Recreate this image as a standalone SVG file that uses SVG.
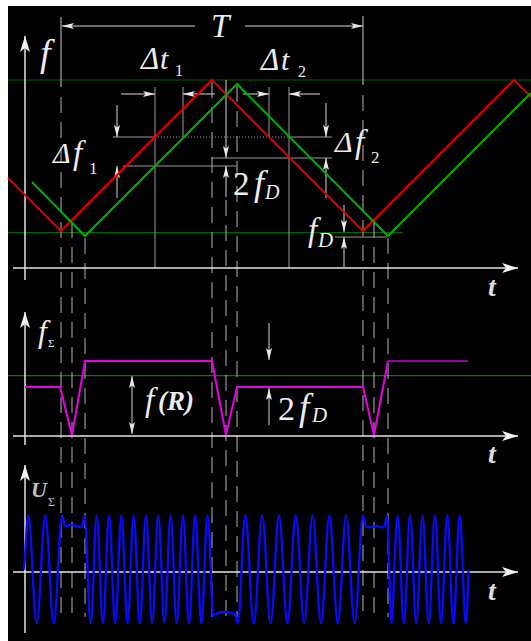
<svg xmlns="http://www.w3.org/2000/svg" width="531" height="641" viewBox="0 0 531 641">
<defs>
<marker id="ar" viewBox="0 0 12 6" refX="12" refY="3" markerWidth="12" markerHeight="6" markerUnits="userSpaceOnUse" orient="auto"><path d="M0,0 L12,3 L0,6 L2.5,3 z" fill="#e8e8e8"/></marker>
<marker id="ax" viewBox="0 0 16 10" refX="16" refY="5" markerWidth="16" markerHeight="10" markerUnits="userSpaceOnUse" orient="auto"><path d="M0,0 L16,5 L0,10 L4,5 z" fill="#f2f2f2"/></marker>
</defs>
<style>
.ax{stroke:#e6e6e6;stroke-width:1.5;fill:none}
.dim{stroke:#d8d8d8;stroke-width:1;fill:none}
.ref{stroke:#9a9a9a;stroke-width:1;fill:none}
.dot{stroke:#9a9a9a;stroke-width:1;stroke-dasharray:1 2;fill:none}
.dash{stroke:#b4b4b4;stroke-width:1;stroke-dasharray:16 9;fill:none}
.gl{stroke:#006400;stroke-width:1.2;fill:none}
.lbl{font-family:"Liberation Serif","Times New Roman",serif;font-style:italic;fill:#ececec}
.tl{font-family:"Liberation Serif","Times New Roman",serif;font-style:italic;font-weight:bold;fill:#dcdcdc;font-size:28px}
</style>
<rect x="0" y="0" width="531" height="641" fill="#ffffff"/>
<rect x="8" y="6" width="523" height="635" fill="#000000"/>

<g id="connectors">
  <line class="gl" x1="8" y1="80" x2="531" y2="80"/>
  <line class="gl" x1="8" y1="232.7" x2="403" y2="232.7"/>
  <line class="gl" x1="8" y1="375.7" x2="531" y2="375.7" style="stroke:#008000"/>

  <line class="ref" x1="61" y1="17" x2="61" y2="87" style="stroke:#c8c8c8"/>
  <line class="ref" x1="363" y1="16" x2="363" y2="85" style="stroke:#c8c8c8"/>

  <line class="dash" x1="61" y1="97" x2="61" y2="617"/>
  <line class="dash" x1="72" y1="222" x2="72" y2="617"/>
  <line class="dash" x1="85" y1="238" x2="85" y2="617"/>
  <line class="dash" x1="212" y1="82" x2="212" y2="617"/>
  <line class="dash" x1="226" y1="200" x2="226" y2="617"/>
  <line class="dash" x1="237" y1="86" x2="237" y2="617"/>
  <line class="dash" x1="363" y1="95" x2="363" y2="617"/>
  <line class="dash" x1="374" y1="222" x2="374" y2="617"/>
  <line class="dash" x1="388" y1="238" x2="388" y2="617"/>

  <line class="ref" x1="155" y1="87" x2="155" y2="268"/>
  <line class="ref" x1="183" y1="87" x2="183" y2="137"/>
  <line class="ref" x1="269" y1="87" x2="269" y2="137"/>
  <line class="ref" x1="289" y1="87" x2="289" y2="268"/>

  <line class="ref" x1="113" y1="137" x2="155" y2="137"/>
  <line class="dot" x1="155" y1="137" x2="289" y2="137"/>
  <line class="ref" x1="289" y1="137" x2="332" y2="137"/>
  <line class="ref" x1="123" y1="166" x2="237" y2="166"/>
  <line class="ref" x1="211" y1="158" x2="332" y2="158"/>
  <line class="ref" x1="335" y1="237" x2="387" y2="237"/>

  <line class="dim" x1="195" y1="26" x2="62" y2="26" marker-end="url(#ar)"/>
  <line class="dim" x1="245" y1="26" x2="363" y2="26" marker-end="url(#ar)"/>
  <line class="dim" x1="121" y1="94" x2="155" y2="94" marker-end="url(#ar)"/>
  <line class="dim" x1="215" y1="94" x2="183" y2="94" marker-end="url(#ar)"/>
  <line class="dim" x1="243" y1="94" x2="269" y2="94" marker-end="url(#ar)"/>
  <line class="dim" x1="320" y1="94" x2="289" y2="94" marker-end="url(#ar)"/>
  <line class="dim" x1="117" y1="105" x2="117" y2="137" marker-end="url(#ar)"/>
  <line class="dim" x1="117" y1="198" x2="117" y2="166" marker-end="url(#ar)"/>
  <line class="dim" x1="326" y1="103" x2="326" y2="137" marker-end="url(#ar)"/>
  <line class="dim" x1="326" y1="198" x2="326" y2="158" marker-end="url(#ar)"/>
  <line class="dim" x1="226" y1="80" x2="226" y2="158" marker-end="url(#ar)"/>
  <line class="dim" x1="226" y1="197" x2="226" y2="166" marker-end="url(#ar)"/>
  <line class="dim" x1="344" y1="205" x2="344" y2="232" marker-end="url(#ar)"/>
  <line class="dim" x1="344" y1="267" x2="344" y2="237" marker-end="url(#ar)"/>
  <line class="dim" x1="132" y1="404" x2="132" y2="376" marker-end="url(#ar)"/>
  <line class="dim" x1="132" y1="404" x2="132" y2="434" marker-end="url(#ar)"/>
  <line class="dim" x1="269" y1="323" x2="269" y2="360" marker-end="url(#ar)"/>
  <line class="dim" x1="269" y1="425" x2="269" y2="388" marker-end="url(#ar)"/>
</g>

<g id="axes">
  <line class="ax" x1="25" y1="280" x2="25" y2="36" marker-end="url(#ax)"/>
  <line class="ax" x1="13" y1="268" x2="518" y2="268" marker-end="url(#ax)"/>
  <line class="ax" x1="25" y1="445" x2="25" y2="312" marker-end="url(#ax)"/>
  <line class="ax" x1="13" y1="436" x2="518" y2="436" marker-end="url(#ax)"/>
  <line class="ax" x1="25" y1="633" x2="25" y2="465" marker-end="url(#ax)"/>
  <line class="ax" x1="13" y1="572" x2="518" y2="572" marker-end="url(#ax)"/>
</g>

<g id="transmitted">
  <polyline points="8,178 61,231 212,80 363,231 514,80 531,97" fill="none" stroke="#e00000" stroke-width="2"/>
</g>
<g id="received">
  <polyline points="32,182 85,236 237,84 388,236 531,93" fill="none" stroke="#00b000" stroke-width="2"/>
</g>

<g id="beat-frequency">
  <polyline points="25,387 60,387 72,435 85,361 212,361 226,435 237,387 363,387 374,435 388,361" fill="none" stroke="#e600e6" stroke-width="2"/>
  <line x1="388" y1="361" x2="468" y2="361" stroke="#a000a0" stroke-width="2"/>
</g>

<g id="beat-signal">
  <path fill="none" stroke="#0a0aff" stroke-width="2.3" d="M24,569.5 C25.6,552 26.9,515.7 28.25,515.7 C31.34,515.7 33.66,623.3 36.75,623.3 S42.16,515.7 45.25,515.7 S50.66,623.3 53.75,623.3 S59.16,515.7 62.25,515.7 C63.2,515.7 63.8,526 65.5,526 C69,526 70,524.5 73.5,525 C77,525.5 79,528 81.5,526.5 C83,525 83.8,515.7 84.5,515.7 C86.74,515.7 88.41,623.3 90.65,623.3 S94.56,515.7 96.8,515.7 S100.71,623.3 102.95,623.3 S106.86,515.7 109.1,515.7 S113.01,623.3 115.25,623.3 S119.16,515.7 121.4,515.7 S125.31,623.3 127.55,623.3 S131.46,515.7 133.7,515.7 S137.61,623.3 139.85,623.3 S143.76,515.7 146,515.7 S149.91,623.3 152.15,623.3 S156.06,515.7 158.3,515.7 S162.21,623.3 164.45,623.3 S168.36,515.7 170.6,515.7 S174.51,623.3 176.75,623.3 S180.66,515.7 182.9,515.7 S186.81,623.3 189.05,623.3 S192.96,515.7 195.2,515.7 S199.11,623.3 201.35,623.3 S205.26,515.7 207.5,515.7 C209.7,515.7 211.5,610 213,616 C216,613 219,612 224,612 C229,612 233,613 235.5,615 C236.3,617 236.8,623.3 237.8,623.3 C240.5,623.3 242.6,515.7 245.4,515.7 C248.46,515.7 250.74,623.3 253.8,623.3 S259.14,515.7 262.2,515.7 S267.54,623.3 270.6,623.3 S275.94,515.7 279,515.7 S284.34,623.3 287.4,623.3 S292.74,515.7 295.8,515.7 S301.14,623.3 304.2,623.3 S309.54,515.7 312.6,515.7 S317.94,623.3 321,623.3 S326.34,515.7 329.4,515.7 S334.74,623.3 337.8,623.3 S343.14,515.7 346.2,515.7 S351.54,623.3 354.6,623.3 S359.94,515.7 363,515.7 C364,515.7 364.5,526 366.5,527 C370,528.5 373,526 376,526 C379,526 381,528.5 384,527 C385.5,526 386.2,515.7 387,515.7 C388.6,515.7 389.9,623.3 391.5,623.3 S395.44,515.7 397.7,515.7 S401.64,623.3 403.9,623.3 S407.84,515.7 410.1,515.7 S414.04,623.3 416.3,623.3 S420.24,515.7 422.5,515.7 S426.44,623.3 428.7,623.3 S432.64,515.7 434.9,515.7 S438.84,623.3 441.1,623.3 S445.04,515.7 447.3,515.7 S451.24,623.3 453.5,623.3 S457.44,515.7 459.7,515.7 S463.64,623.3 465.9,623.3 C467,623.3 467.8,590 468.5,569.5"/>
</g>

<g id="labels">
  <text class="lbl" x="211" y="37" font-size="33">T</text>
  <text class="lbl" x="40" y="66" font-size="38">f</text>
  <text class="lbl" font-size="31"><tspan x="141" y="69">Δ</tspan><tspan x="160" y="69" font-size="30">t</tspan><tspan x="175" y="76" font-size="16" font-style="normal">1</tspan></text>
  <text class="lbl" font-size="31"><tspan x="261" y="70">Δ</tspan><tspan x="281" y="70" font-size="30">t</tspan><tspan x="298" y="77" font-size="16" font-style="normal">2</tspan></text>
  <text class="lbl" font-size="30"><tspan x="53" y="163">Δ</tspan><tspan x="73" y="164" font-size="33">f</tspan><tspan x="89" y="174" font-size="17" font-style="normal">1</tspan></text>
  <text class="lbl" font-size="30"><tspan x="335" y="152">Δ</tspan><tspan x="355" y="153" font-size="33">f</tspan><tspan x="371" y="163" font-size="17" font-style="normal">2</tspan></text>
  <text class="lbl" font-size="33"><tspan x="233" y="195" font-style="normal">2</tspan><tspan x="254" y="195" font-size="36">f</tspan><tspan x="265" y="199" font-size="20">D</tspan></text>
  <text class="lbl" font-size="33"><tspan x="308" y="241">f</tspan><tspan x="318" y="247" font-size="21">D</tspan></text>
  <text class="tl" x="488" y="296">t</text>
  <text class="lbl" font-size="32"><tspan x="38" y="342">f</tspan><tspan x="48" y="347" font-size="11" font-style="normal">Σ</tspan></text>
  <text class="lbl" font-size="33"><tspan x="145" y="411">f</tspan><tspan x="158" y="410" font-size="27" font-weight="bold">(R)</tspan></text>
  <text class="lbl" font-size="34"><tspan x="278" y="420" font-style="normal">2</tspan><tspan x="299" y="420" font-size="37">f</tspan><tspan x="312" y="422" font-size="21">D</tspan></text>
  <text class="tl" x="488" y="463">t</text>
  <text class="lbl" font-size="22" font-weight="bold" style="fill:#c0c0c0"><tspan x="31" y="497">U</tspan><tspan x="48" y="506" font-size="12" font-weight="normal" font-style="normal">Σ</tspan></text>
  <text class="tl" x="488" y="600">t</text>
</g>
</svg>
